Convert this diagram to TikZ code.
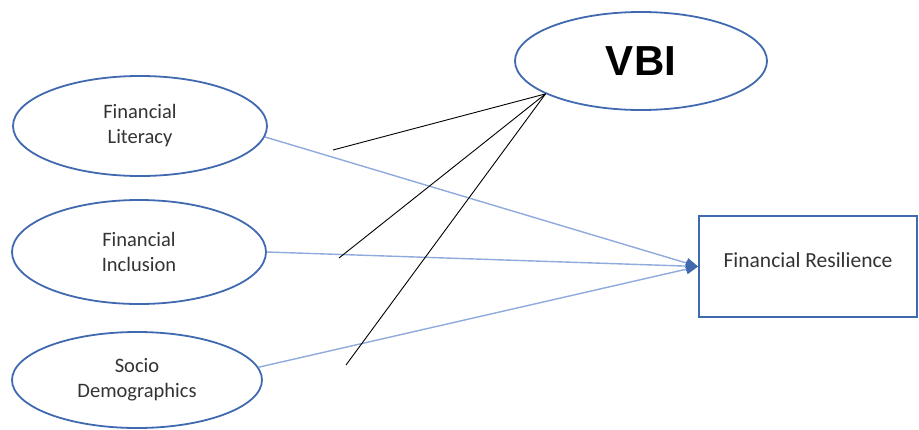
\documentclass[tikz,border=0pt]{standalone}
\usepackage{fontspec}
\setmainfont{Carlito}
\newfontfamily\vbifont{Liberation Sans}
\usetikzlibrary{arrows.meta,shapes.geometric}
\definecolor{edgeblue}{HTML}{4169B0}
\definecolor{lineblue}{HTML}{8FAADC}
\definecolor{txtgrey}{HTML}{333333}
\begin{document}
\begin{tikzpicture}[x=1pt,y=-1pt,
  oval/.style={draw=edgeblue,line width=1.8pt,ellipse,inner sep=0pt,align=center,
    font=\fontsize{20.5}{25}\selectfont,text=txtgrey},
  boxr/.style={draw=edgeblue,line width=1.8pt,rectangle,inner sep=0pt,
    font=\fontsize{21.5}{25}\selectfont,text=txtgrey},
  bluearrow/.style={draw=lineblue,line width=1.4pt,-{Triangle[length=12pt,width=10pt,fill=edgeblue,color=edgeblue]}},
  blackline/.style={draw=black,line width=0.9pt}]
\useasboundingbox (0,0) rectangle (919,429);
\node[oval,minimum width=254pt,minimum height=100pt] (lit) at (140,126) {Financial\\Literacy};
\node[oval,minimum width=254pt,minimum height=104pt] (inc) at (139,252) {Financial\\Inclusion};
\node[oval,minimum width=250pt,minimum height=96pt] (soc) at (137,380) {Socio\\Demographics};
\node[oval,minimum width=252pt,minimum height=98pt,font=\vbifont\bfseries\fontsize{42}{46}\selectfont,text=black] (vbi) at (641,61) {VBI};
\node[boxr,minimum width=218pt,minimum height=101pt] (res) at (808,266.5) {\raisebox{12pt}{Financial Resilience}};
\coordinate (tip) at (res.west);
\draw[bluearrow] (lit.-5) -- (tip);
\draw[bluearrow] (inc.east) -- (tip);
\draw[bluearrow] (soc.6) -- (tip);
\coordinate (v) at (vbi.199);
\coordinate (b1) at (333,150);
\coordinate (b2) at (339,258);
\coordinate (b3) at (346,365);
\draw[blackline] (b1) -- (v);
\draw[blackline] (b2) -- (v);
\draw[blackline] (b3) -- (v);
\end{tikzpicture}
\end{document}
